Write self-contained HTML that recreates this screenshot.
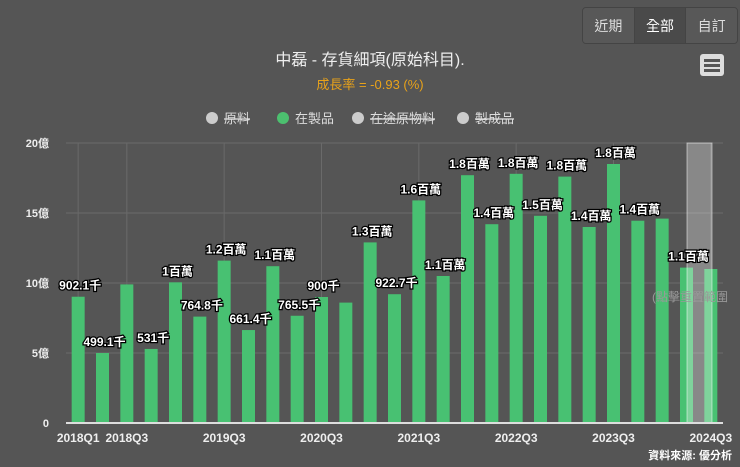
<!DOCTYPE html>
<html><head><meta charset="utf-8">
<style>
body{margin:0;width:740px;height:467px;background:#555555;overflow:hidden;font-family:"Liberation Sans","Noto Sans CJK TC",sans-serif;}
.btns{position:absolute;left:582px;top:7px;width:154px;height:35px;border:1px solid #444;border-radius:4px;display:flex;overflow:hidden}
.btns div{flex:1;display:flex;align-items:center;justify-content:center;color:#ddd;font-size:14px;background:#585858;border-right:1px solid #444}
.btns div.act{background:#4a4a4a;color:#fff}
.btns div:last-child{border-right:none}
</style></head><body>
<div class="btns">
<div>近期</div>
<div class="act">全部</div>
<div>自訂</div>
</div>
<svg id="c" width="740" height="467" style="position:absolute;left:0;top:0"></svg>
<script>
const categories=[];for(let y=2018;y<=2024;y++)for(let q=1;q<=4;q++){if(y===2024&&q>3)break;categories.push(y+'Q'+q);}
const values=[9.02,5.0,9.9,5.29,10.05,7.6,11.6,6.64,11.2,7.66,9.0,8.6,12.9,9.2,15.9,10.5,17.7,14.2,17.8,14.8,17.6,14.0,18.5,14.45,14.6,11.1,11.0];
const labels=['902.1千','499.1千',null,'531千','1百萬','764.8千','1.2百萬','661.4千','1.1百萬','765.5千','900千',null,'1.3百萬','922.7千','1.6百萬','1.1百萬','1.8百萬','1.4百萬','1.8百萬','1.5百萬','1.8百萬','1.4百萬','1.8百萬','1.4百萬',null,'1.1百萬',null];
const yTicks=[0,5,10,15,20];
const xTickLabels=['2018Q1','2018Q3','2019Q3','2020Q3','2021Q3','2022Q3','2023Q3','2024Q3'];
const ns='http://www.w3.org/2000/svg',svg=document.getElementById('c');
const x0=66,x1=723,y0=423,yTop=143;
const step=(x1-x0)/categories.length;
const xs=i=>x0+step*(i+0.5), ys=v=>y0-(v/20)*(y0-yTop);
function mk(t,a,txt){const e=document.createElementNS(ns,t);for(const k in a)e.setAttribute(k,a[k]);if(txt!=null)e.textContent=txt;svg.appendChild(e);return e;}
let t=mk('text',{x:370,y:65,'text-anchor':'middle',fill:'#eee','font-size':16},'中磊 - 存貨細項(原始科目).');

t=mk('text',{x:370,y:89,'text-anchor':'middle',fill:'#e8a21a','font-size':13},'成長率 = -0.93 (%)');

let m=mk('rect',{x:700,y:54,width:24,height:22,rx:3,fill:'#ddd'});

[59,64,69].forEach(yy=>mk('rect',{x:704,y:yy,width:16,height:3,fill:'#555'}));
const leg=[['原料',212,'#ccc',true],['在製品',283,'#4cc06f',false],['在途原物料',358,'#ccc',true],['製成品',463,'#ccc',true]];
leg.forEach(l=>{const g=mk('g',{});
const c=document.createElementNS(ns,'circle');c.setAttribute('cx',l[1]);c.setAttribute('cy',118);c.setAttribute('r',6);c.setAttribute('fill',l[2]);g.appendChild(c);
const tx=document.createElementNS(ns,'text');tx.setAttribute('x',l[1]+12);tx.setAttribute('y',123);tx.setAttribute('fill','#ddd');tx.setAttribute('font-size',13);
if(l[3])tx.setAttribute('text-decoration','line-through');tx.textContent=l[0];g.appendChild(tx);});
yTicks.forEach(v=>{if(v>0)mk('line',{x1:x0,x2:x1,y1:ys(v),y2:ys(v),stroke:'#6a6a6a','stroke-width':1});
let e=mk('text',{x:49,y:ys(v)+4,'text-anchor':'end',fill:'#eee','font-size':11,'font-weight':'bold'},v===0?'0':v+'億');
});
xTickLabels.forEach(l=>{const i=categories.indexOf(l);const x=xs(i);
mk('line',{x1:x,x2:x,y1:yTop,y2:y0,stroke:'#6a6a6a','stroke-width':1});
let e=mk('text',{x:x,y:442,'text-anchor':'middle',fill:'#eee','font-size':12,'font-weight':'bold'},l);
});
values.forEach((v,i)=>{let b=mk('rect',{x:xs(i)-6.5,y:ys(v),width:13,height:y0-ys(v),fill:'#48c172'});
});
let hb=mk('rect',{x:687,y:yTop,width:25,height:y0-yTop,fill:'rgba(255,255,255,0.3)',stroke:'rgba(255,255,255,0.5)'});

mk('line',{x1:x0,x2:x1,y1:y0,y2:y0,stroke:'#ddd','stroke-width':2});
values.forEach((v,i)=>{if(!labels[i])return;let e=mk('text',{x:xs(i)+2,y:ys(v)-7,'text-anchor':'middle',fill:'#fff','font-size':12,'font-weight':'bold',stroke:'#000','stroke-width':2.5,'paint-order':'stroke'},labels[i]);
});
t=mk('text',{x:652,y:301,fill:'#999','font-size':12},'(點擊重置範圍');

t=mk('text',{x:732,y:459,'text-anchor':'end',fill:'#fff','font-size':11,'font-weight':'bold'},'資料來源: 優分析');

</script>
</body></html>
